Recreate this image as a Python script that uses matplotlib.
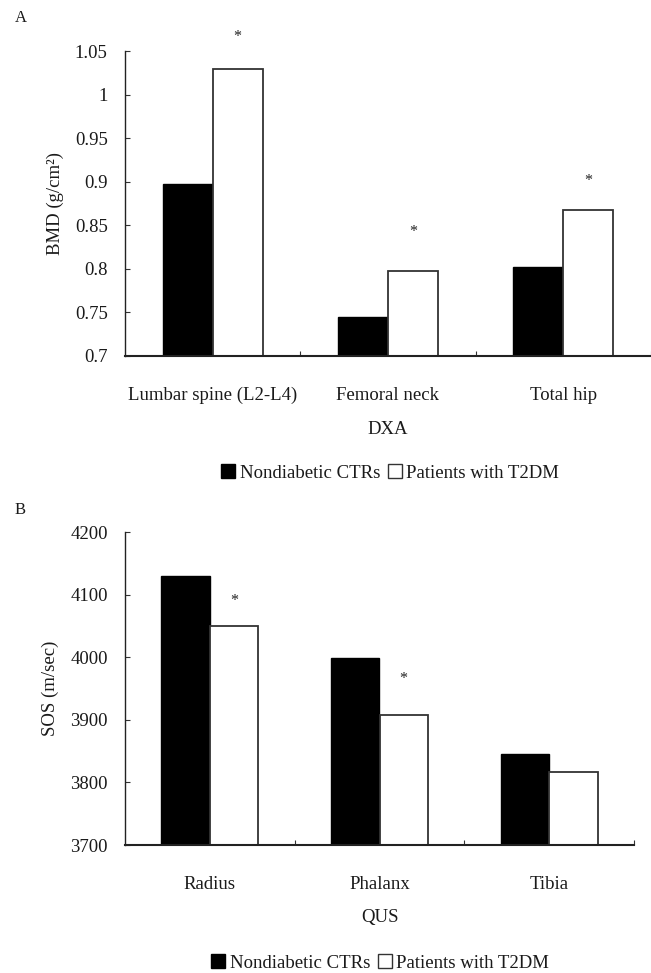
import matplotlib
matplotlib.use("Agg")
import matplotlib.pyplot as plt
from matplotlib.patches import Patch
import numpy as np

plt.rcParams['font.family'] = ['Liberation Serif', 'DejaVu Serif']

# Panel A data
cats_a = ["Lumbar spine (L2-L4)", "Femoral neck", "Total hip"]
ctr_a = [0.897, 0.745, 0.802]
t2dm_a = [1.029, 0.798, 0.868]
star_a = [1.066, 0.842, 0.901]
yticks_a = [0.7, 0.75, 0.8, 0.85, 0.9, 0.95, 1.0, 1.05]
yticklabels_a = ["0.7", "0.75", "0.8", "0.85", "0.9", "0.95", "1", "1.05"]

# Panel B data
cats_b = ["Radius", "Phalanx", "Tibia"]
ctr_b = [4129, 3999, 3846]
t2dm_b = [4050, 3907, 3817]
star_b = [4089, 3965, None]
yticks_b = [3700, 3800, 3900, 4000, 4100, 4200]

series_names = ["Nondiabetic CTRs", "Patients with T2DM"]

W, H = 651, 973
fig = plt.figure(figsize=(W / 100, H / 100), dpi=100)

FS = 13.5
EDGE = "#333333"
TXT = "#1a1a1a"
bw = 0.285


def px_axes(l, t, r, b):
    return fig.add_axes([l / W, 1 - b / H, (r - l) / W, (b - t) / H])


def draw(ax, cats, ctr, t2dm, stars, ylim, yticks, ylabels, ylabel, xlabel):
    x = np.arange(len(cats))
    ax.bar(x - bw / 2, ctr, bw, color="black", edgecolor="black", linewidth=1.0, zorder=2)
    ax.bar(x + bw / 2, t2dm, bw, color="white", edgecolor=EDGE, linewidth=1.3, zorder=2)
    for xi, s in zip(x, stars):
        if s is not None:
            ax.text(xi + bw / 2, s, "*", ha="center", va="center", fontsize=11.5, color="#222222")
    ax.set_xlim(-0.5, len(cats) - 0.5)
    ax.set_ylim(*ylim)
    ax.set_yticks(yticks)
    ax.set_yticklabels(ylabels)
    ax.set_xticks(x)
    ax.set_xticklabels(cats)
    ax.set_xticks(np.arange(0.5, len(cats), 1.0), minor=True)
    ax.tick_params(axis="x", which="major", length=0, pad=22, labelsize=FS, labelcolor=TXT)
    ax.tick_params(axis="x", which="minor", direction="in", length=3.5, color=EDGE, width=0.8)
    ax.tick_params(axis="y", direction="in", length=3.5, width=0.8, color=EDGE, pad=12.5,
                   labelsize=FS, labelcolor=TXT)
    for s in ["top", "right"]:
        ax.spines[s].set_visible(False)
    ax.spines["left"].set_color("#222222")
    ax.spines["bottom"].set_color("#222222")
    ax.spines["left"].set_linewidth(1.0)
    ax.spines["bottom"].set_linewidth(1.5)
    ax.set_ylabel(ylabel, fontsize=FS, labelpad=8, color=TXT)
    ax.set_xlabel(xlabel, fontsize=FS, labelpad=12, color=TXT)


axA = px_axes(125, 51, 651, 356)
draw(axA, cats_a, ctr_a, t2dm_a, star_a, (0.7, 1.05), yticks_a, yticklabels_a,
     "BMD (g/cm²)", "DXA")

axB = px_axes(125, 532, 634, 845)
draw(axB, cats_b, ctr_b, t2dm_b, star_b, (3700, 4200), yticks_b,
     [str(v) for v in yticks_b], "SOS (m/sec)", "QUS")

handles = [Patch(facecolor="black", edgecolor="black"),
           Patch(facecolor="white", edgecolor=EDGE, linewidth=1.0)]
for cx, cy in [(390, 473), (380, 963)]:
    leg = fig.legend(handles, series_names, loc="center", bbox_to_anchor=(cx / W, 1 - cy / H),
                     ncol=2, frameon=False, fontsize=FS, handlelength=0.75, handleheight=0.75,
                     handletextpad=0.25, columnspacing=0.4, borderpad=0, borderaxespad=0)
    for t in leg.get_texts():
        t.set_color(TXT)

fig.text(15 / W, 1 - 18 / H, "A", fontsize=12, ha="left", va="center", color=TXT)
fig.text(15 / W, 1 - 510 / H, "B", fontsize=12, ha="left", va="center", color=TXT)

fig.savefig("out.png", dpi=100)
